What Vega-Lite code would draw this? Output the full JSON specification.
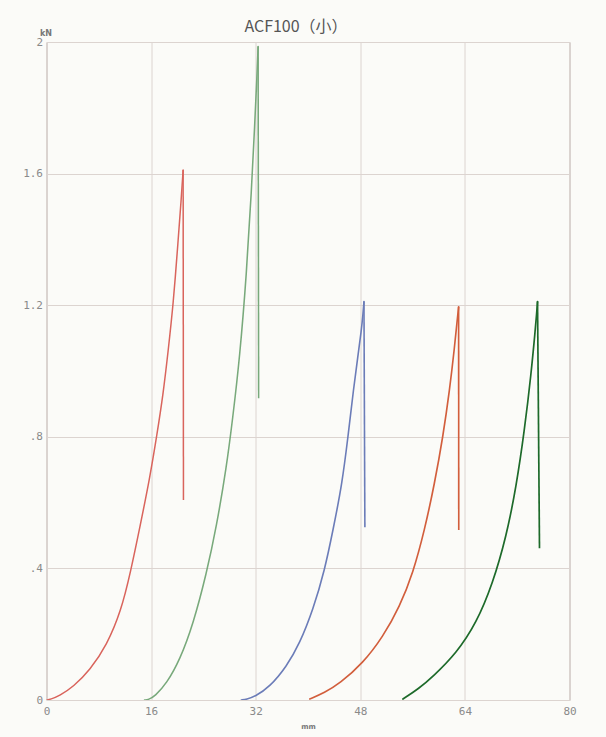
{
  "$schema": "https://vega.github.io/schema/vega-lite/v6.json",
  "autosize": "none",
  "width": 523,
  "height": 658,
  "padding": {"left": 46.5, "top": 42, "right": 36.5, "bottom": 37},
  "background": "#fbfbf8",
  "title": {
    "text": "ACF100（小）",
    "font": "Noto Sans CJK JP",
    "fontSize": 16,
    "fontWeight": "normal",
    "color": "#555555",
    "frame": "group",
    "anchor": "middle",
    "dx": -12,
    "dy": 15,
    "offset": 9
  },
  "config": {
    "view": {"stroke": "#b8aca8", "strokeWidth": 1},
    "axis": {
      "grid": true,
      "gridColor": "#dcd4d0",
      "gridWidth": 1,
      "domain": false,
      "ticks": false,
      "labelFont": "DejaVu Sans Mono",
      "labelFontSize": 11,
      "labelColor": "#8a8a8a",
      "titleFont": "DejaVu Sans",
      "titleColor": "#777777",
      "titleFontWeight": "bold"
    }
  },
  "datasets": {
    "rise": [
      {"s": "A", "x": 0, "y": 0},
      {"s": "A", "x": 0.6, "y": 0.002},
      {"s": "A", "x": 2.0, "y": 0.013},
      {"s": "A", "x": 4.1, "y": 0.04},
      {"s": "A", "x": 6.65, "y": 0.091},
      {"s": "A", "x": 9.2, "y": 0.166},
      {"s": "A", "x": 11.4, "y": 0.27},
      {"s": "A", "x": 12.87, "y": 0.39},
      {"s": "A", "x": 14.29, "y": 0.526},
      {"s": "A", "x": 15.82, "y": 0.677},
      {"s": "A", "x": 16.84, "y": 0.8},
      {"s": "A", "x": 17.85, "y": 0.93},
      {"s": "A", "x": 18.6, "y": 1.06},
      {"s": "A", "x": 19.38, "y": 1.2},
      {"s": "A", "x": 20.14, "y": 1.398},
      {"s": "A", "x": 20.6, "y": 1.52},
      {"s": "A", "x": 20.9, "y": 1.611},

      {"s": "B", "x": 15.0, "y": 0},
      {"s": "B", "x": 15.6, "y": 0.001},
      {"s": "B", "x": 16.6, "y": 0.012},
      {"s": "B", "x": 18.37, "y": 0.05},
      {"s": "B", "x": 20.4, "y": 0.122},
      {"s": "B", "x": 22.43, "y": 0.23},
      {"s": "B", "x": 24.48, "y": 0.385},
      {"s": "B", "x": 26.0, "y": 0.527},
      {"s": "B", "x": 27.54, "y": 0.709},
      {"s": "B", "x": 28.45, "y": 0.851},
      {"s": "B", "x": 29.57, "y": 1.043},
      {"s": "B", "x": 30.6, "y": 1.297},
      {"s": "B", "x": 31.36, "y": 1.55},
      {"s": "B", "x": 31.86, "y": 1.753},
      {"s": "B", "x": 32.2, "y": 1.9},
      {"s": "B", "x": 32.37, "y": 1.986},

      {"s": "C", "x": 29.8, "y": 0},
      {"s": "C", "x": 30.6, "y": 0.002},
      {"s": "C", "x": 31.86, "y": 0.01},
      {"s": "C", "x": 34.15, "y": 0.04},
      {"s": "C", "x": 36.7, "y": 0.101},
      {"s": "C", "x": 38.74, "y": 0.172},
      {"s": "C", "x": 40.77, "y": 0.274},
      {"s": "C", "x": 42.56, "y": 0.395},
      {"s": "C", "x": 43.83, "y": 0.517},
      {"s": "C", "x": 45.2, "y": 0.655},
      {"s": "C", "x": 46.12, "y": 0.8},
      {"s": "C", "x": 46.99, "y": 0.95},
      {"s": "C", "x": 47.6, "y": 1.04},
      {"s": "C", "x": 48.17, "y": 1.125},
      {"s": "C", "x": 48.4, "y": 1.17},
      {"s": "C", "x": 48.56, "y": 1.211},

      {"s": "D", "x": 40.27, "y": 0.003},
      {"s": "D", "x": 42.5, "y": 0.022},
      {"s": "D", "x": 44.85, "y": 0.05},
      {"s": "D", "x": 48.41, "y": 0.112},
      {"s": "D", "x": 51.47, "y": 0.192},
      {"s": "D", "x": 54.02, "y": 0.284},
      {"s": "D", "x": 56.05, "y": 0.385},
      {"s": "D", "x": 57.84, "y": 0.517},
      {"s": "D", "x": 59.37, "y": 0.659},
      {"s": "D", "x": 60.64, "y": 0.8},
      {"s": "D", "x": 61.66, "y": 0.942},
      {"s": "D", "x": 62.42, "y": 1.074},
      {"s": "D", "x": 62.8, "y": 1.15},
      {"s": "D", "x": 63.04, "y": 1.195},

      {"s": "E", "x": 54.52, "y": 0.003},
      {"s": "E", "x": 56.9, "y": 0.034},
      {"s": "E", "x": 59.1, "y": 0.071},
      {"s": "E", "x": 62.68, "y": 0.142},
      {"s": "E", "x": 65.74, "y": 0.233},
      {"s": "E", "x": 68.27, "y": 0.355},
      {"s": "E", "x": 70.32, "y": 0.496},
      {"s": "E", "x": 71.85, "y": 0.648},
      {"s": "E", "x": 73.12, "y": 0.821},
      {"s": "E", "x": 74.14, "y": 0.993},
      {"s": "E", "x": 74.76, "y": 1.125},
      {"s": "E", "x": 74.98, "y": 1.175},
      {"s": "E", "x": 75.11, "y": 1.211}
    ],
    "drop": [
      {"s": "A", "x": 20.9, "y": 1.611},
      {"s": "A", "x": 20.95, "y": 0.608},
      {"s": "B", "x": 32.37, "y": 1.986},
      {"s": "B", "x": 32.45, "y": 0.917},
      {"s": "C", "x": 48.56, "y": 1.211},
      {"s": "C", "x": 48.7, "y": 0.525},
      {"s": "D", "x": 63.04, "y": 1.195},
      {"s": "D", "x": 63.06, "y": 0.517},
      {"s": "E", "x": 75.11, "y": 1.211},
      {"s": "E", "x": 75.41, "y": 0.461}
    ]
  },
  "encoding": {
    "x": {
      "field": "x",
      "type": "quantitative",
      "scale": {"domain": [0, 80], "nice": false, "zero": false},
      "axis": {
        "values": [0, 16, 32, 48, 64, 80],
        "labelFlush": false,
        "labelPadding": 5,
        "title": "mm",
        "titleFontSize": 7,
        "titlePadding": 6
      }
    },
    "y": {
      "field": "y",
      "type": "quantitative",
      "scale": {"domain": [0, 2], "nice": false},
      "axis": {
        "values": [0, 0.4, 0.8, 1.2, 1.6, 2],
        "labelExpr": "datum.value == 0 ? '0' : datum.value == 2 ? '2' : datum.value < 1 ? '.' + round(datum.value * 10) : '1.' + round((datum.value - 1) * 10)",
        "labelPadding": 4,
        "labelFlush": false,
        "title": "kN",
        "titleAngle": 0,
        "titleFontSize": 8,
        "titleAlign": "center",
        "titleBaseline": "alphabetic",
        "titleX": -1,
        "titleY": -7
      }
    },
    "color": {
      "field": "s",
      "type": "nominal",
      "legend": null,
      "scale": {
        "domain": ["A", "B", "C", "D", "E"],
        "range": ["#d9645c", "#78a97b", "#6b7cb8", "#d25e3c", "#1d6a2a"]
      }
    },
    "strokeWidth": {
      "field": "s",
      "type": "nominal",
      "legend": null,
      "scale": {
        "domain": ["A", "B", "C", "D", "E"],
        "range": [1.5, 1.7, 1.9, 1.1, 1.2]
      }
    }
  },
  "layer": [
    {
      "data": {"name": "rise"},
      "mark": {"type": "line", "interpolate": "basis", "strokeCap": "round", "strokeJoin": "round", "clip": true}
    },
    {
      "data": {"name": "drop"},
      "mark": {"type": "line", "strokeCap": "butt", "clip": true}
    }
  ]
}
